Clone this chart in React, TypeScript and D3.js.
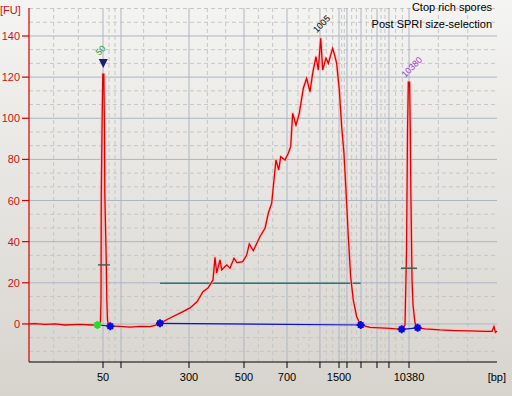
import React, { useEffect, useRef } from 'react';
import * as d3 from 'd3';

const W = 512;
const H = 396;

// electropherogram trace: migration time (s) and fluorescence (FU)
const traceTime = [
  40.0, 40.9, 42.39, 43.89, 45.38, 47.63, 49.42, 50.24, 50.32, 50.69, 50.77, 50.81, 50.92, 51.04, 51.19,
  51.29, 51.34, 51.56, 51.64, 51.74, 51.89, 52.16, 53.61, 55.1, 56.6, 58.09, 58.84, 59.59, 61.09, 63.03,
  64.08, 65.13, 66.02, 66.77, 67.52, 67.82, 68.07, 68.57, 68.82, 69.57, 70.06, 70.66, 71.11, 71.96, 72.56,
  72.95, 73.55, 74.55, 75.3, 75.79, 76.3, 76.64, 76.94, 77.35, 77.65, 78.29, 78.78, 79.14, 79.44, 79.93,
  80.43, 81.03, 81.53, 82.03, 82.43, 82.93, 83.27, 83.63, 83.93, 84.42, 84.77, 85.13, 85.42, 85.77, 86.02,
  86.41, 86.77, 87.11, 87.41, 87.76, 88.11, 88.5, 89.01, 89.61, 91.0, 92.5, 93.99, 95.74, 96.24, 96.47,
  96.62, 96.74, 96.92, 97.03, 97.11, 97.29, 97.44, 97.73, 98.13, 99.23, 101.47, 103.72, 105.96, 108.2, 109.25,
  109.55, 109.77, 110.0,
];
const traceFU = [
  0.0, 0.2, -0.2, 0.0, -0.5, -0.2, -0.5, -0.5, -0.5, 1.0, 11.7, 62.7, 94.3, 121.5, 121.5,
  94.3, 62.7, 29.7, 11.7, 1.9, -0.5, -1.1, -1.2, -1.5, -1.2, -1.3, -0.7, 0.3, 2.9, 6.0,
  7.8, 10.8, 15.7, 17.4, 21.4, 32.4, 24.8, 31.1, 26.3, 28.7, 27.1, 31.9, 29.8, 30.3, 33.5,
  38.9, 35.6, 42.5, 46.5, 53.8, 58.7, 70.0, 79.7, 74.9, 81.3, 79.7, 83.0, 86.2, 102.4, 96.7,
  102.4, 114.6, 119.4, 112.9, 121.9, 129.9, 123.5, 138.9, 123.5, 129.2, 126.7, 130.8, 134.0, 130.0, 126.7,
  113.8, 95.9, 83.0, 65.1, 42.4, 23.0, 11.7, 3.5, -0.5, -1.7, -1.9, -2.2, -2.6, -0.5, 36.0,
  94.3, 117.6, 117.6, 95.3, 65.1, 21.4, 9.2, 0.5, -1.9, -2.4, -2.9, -3.2, -3.4, -3.6, -3.6,
  -1.3, -4.1, -3.4,
];

// ladder ticks on the x axis
const ladderBp = [50, 100, 300, 500, 700, 1000, 1500, 2000, 3000, 5000, 7000, 10380];
const ladderTime = [51.07, 53.76, 63.93, 72.16, 78.59, 83.52, 86.37, 87.56, 89.66, 92.05, 93.84, 96.84];
const ladderLabels = ['50', '', '300', '500', '700', '', '1500', '', '', '', '', '10380'];

const yTicks = [0, 20, 40, 60, 80, 100, 120, 140];

// labelled peaks
const peakTime = [51.11, 83.63, 96.86];
const peakFU = [121.5, 138.9, 117.6];
const peakLabel = ['50', '1005', '10380'];
const peakColor = ['#1f9a1f', '#000000', '#9a3fd0'];

// peak / region start-end points
const greenPoints = [[50.24, -0.5]];
const bluePoints = [[52.16, -1.1], [59.59, 0.3], [89.61, -0.5], [95.74, -2.6], [98.13, -1.9]];
const baselineFrom = [[50.24, -0.5], [59.59, 0.3], [95.74, -2.6]];
const baselineTo = [[52.16, -1.1], [89.61, -0.5], [98.13, -1.9]];
const halfHeightFrom = [50.32, 95.64];
const halfHeightTo = [52.11, 98.03];
const halfHeightFU = [28.7, 27.1];
const regionFrom = 59.59;
const regionTo = 89.61;
const regionFU = 19.8;

const Electropherogram = () => {
  const svgRef = useRef(null);

  useEffect(() => {
    const svg = d3.select(svgRef.current);
    svg.selectAll('*').remove();

    const x = d3.scaleLinear().domain([40, 110]).range([29, 497]);
    const y = d3.scaleLinear().domain([-18.5, 153.6]).range([362, 8]);
    const font = '"Liberation Sans", Arial, sans-serif';

    // background
    const grad = svg.append('defs').append('linearGradient')
      .attr('id', 'bg').attr('x1', 0).attr('y1', 0).attr('x2', 0).attr('y2', 1);
    grad.append('stop').attr('offset', '0%').attr('stop-color', '#f4f4f2');
    grad.append('stop').attr('offset', '100%').attr('stop-color', '#d7d4ce');
    svg.append('rect').attr('width', W).attr('height', H).attr('fill', 'url(#bg)');

    const [x0, x1] = x.range();
    const [yb, yt] = y.range();

    // minor grid (thirds between major lines)
    const xEdges = [x.domain()[0], ...ladderTime, x.domain()[1]];
    const xMinor = [];
    for (let i = 0; i < xEdges.length - 1; i++) {
      const step = (xEdges[i + 1] - xEdges[i]) / 3;
      xMinor.push(xEdges[i] + step, xEdges[i] + 2 * step);
    }
    const yMinor = d3.range(-2, 24).filter(k => k % 3 !== 0).map(k => k * 20 / 3);

    const grid = svg.append('g');
    grid.selectAll('.xm').data(xMinor).enter().append('line')
      .attr('x1', d => x(d)).attr('x2', d => x(d)).attr('y1', yt).attr('y2', yb)
      .attr('stroke', '#c6c6c6').attr('stroke-dasharray', '4,3');
    grid.selectAll('.ym').data(yMinor).enter().append('line')
      .attr('x1', x0).attr('x2', x1).attr('y1', d => y(d)).attr('y2', d => y(d))
      .attr('stroke', '#c6c6c6').attr('stroke-dasharray', '4,3');
    grid.selectAll('.xM').data(ladderTime).enter().append('line')
      .attr('x1', d => x(d)).attr('x2', d => x(d)).attr('y1', yt).attr('y2', yb)
      .attr('stroke', '#adb5c4');
    grid.selectAll('.yM').data(yTicks).enter().append('line')
      .attr('x1', x0).attr('x2', x1).attr('y1', d => y(d)).attr('y2', d => y(d))
      .attr('stroke', '#adb5c4');

    // region bar
    svg.append('line')
      .attr('x1', x(regionFrom)).attr('x2', x(regionTo))
      .attr('y1', y(regionFU)).attr('y2', y(regionFU))
      .attr('stroke', '#2c7a6c').attr('stroke-width', 1.6);

    // baselines under peaks
    svg.selectAll('.base').data(baselineFrom).enter().append('line')
      .attr('x1', d => x(d[0])).attr('y1', d => y(d[1]))
      .attr('x2', (d, i) => x(baselineTo[i][0])).attr('y2', (d, i) => y(baselineTo[i][1]))
      .attr('stroke', '#1010d0').attr('stroke-width', 1.2);

    // trace
    const line = d3.line().x(d => x(d[0])).y(d => y(d[1]));
    const pts = traceTime.map((t, i) => [t, traceFU[i]]);
    svg.append('path').attr('d', line(pts)).attr('fill', 'none')
      .attr('stroke', '#ffb4b4').attr('stroke-width', 3).attr('stroke-opacity', 0.7)
      .attr('stroke-linejoin', 'round');
    svg.append('path').attr('d', line(pts)).attr('fill', 'none')
      .attr('stroke', '#dd0000').attr('stroke-width', 1.3);

    // half-height markers
    svg.selectAll('.hh').data(halfHeightFU).enter().append('line')
      .attr('x1', (d, i) => x(halfHeightFrom[i])).attr('x2', (d, i) => x(halfHeightTo[i]))
      .attr('y1', d => y(d)).attr('y2', d => y(d))
      .attr('stroke', '#3d5a50').attr('stroke-width', 1.4);

    // start / end points
    const dot = (px, py) =>
      `M${px - 3},${py - 3}h6v6h-6z M${px - 1},${py - 4}h2v8h-2z M${px - 4},${py - 1}h8v2h-8z`;
    svg.selectAll('.gp').data(greenPoints).enter().append('path')
      .attr('d', d => dot(x(d[0]), y(d[1]))).attr('fill', '#22dd22');
    svg.selectAll('.bp').data(bluePoints).enter().append('path')
      .attr('d', d => dot(x(d[0]), y(d[1]))).attr('fill', '#0a0ae0');

    // lower marker triangle
    const tx = x(peakTime[0]);
    const ty = y(peakFU[0]) - 15;
    svg.append('path')
      .attr('d', `M${tx - 4.5},${ty}L${tx + 4.5},${ty}L${tx},${ty + 9}Z`)
      .attr('fill', '#1c1c70');

    // peak labels
    const labelDy = [-18, -5, -4];
    svg.selectAll('.pl').data(peakLabel).enter().append('text')
      .attr('transform', (d, i) => `translate(${x(peakTime[i]) - 4},${y(peakFU[i]) + labelDy[i]}) rotate(-45)`)
      .attr('fill', (d, i) => peakColor[i])
      .style('font-family', font).style('font-size', '9px')
      .text(d => d);

    // y axis
    svg.append('line').attr('x1', x0).attr('x2', x0).attr('y1', yt).attr('y2', yb)
      .attr('stroke', '#d00000').attr('stroke-width', 1.2);
    const yAx = svg.append('g');
    yAx.selectAll('line').data(yTicks).enter().append('line')
      .attr('x1', x0 - 7).attr('x2', x0).attr('y1', d => y(d)).attr('y2', d => y(d))
      .attr('stroke', '#d00000').attr('stroke-width', 1.2);
    yAx.selectAll('text').data(yTicks).enter().append('text')
      .attr('x', x0 - 9).attr('y', d => y(d) + 4)
      .attr('text-anchor', 'end').attr('fill', '#d01010')
      .style('font-family', font).style('font-size', '11px')
      .text(d => d);
    svg.append('text').attr('x', 0).attr('y', 14).attr('fill', '#d01010')
      .style('font-family', font).style('font-size', '11px').text('[FU]');

    // x axis
    svg.append('line').attr('x1', x0).attr('x2', x1).attr('y1', yb).attr('y2', yb)
      .attr('stroke', '#000');
    const xAx = svg.append('g');
    xAx.selectAll('line').data(ladderTime).enter().append('line')
      .attr('x1', d => x(d)).attr('x2', d => x(d)).attr('y1', yb).attr('y2', yb + 6)
      .attr('stroke', '#000');
    xAx.selectAll('text').data(ladderBp).enter().append('text')
      .attr('x', (d, i) => x(ladderTime[i])).attr('y', 381)
      .attr('text-anchor', 'middle').attr('fill', '#000')
      .style('font-family', font).style('font-size', '11px')
      .text((d, i) => ladderLabels[i]);
    svg.append('text').attr('x', 506).attr('y', 381).attr('text-anchor', 'end')
      .style('font-family', font).style('font-size', '11px').text('[bp]');

    // sample name
    svg.append('text').attr('x', 492).attr('y', 11).attr('text-anchor', 'end')
      .style('font-family', font).style('font-size', '11px').text('Ctop rich spores');
    svg.append('text').attr('x', 492).attr('y', 28).attr('text-anchor', 'end')
      .style('font-family', font).style('font-size', '11px').text('Post SPRI size-selection');
  }, []);

  return (
    <svg ref={svgRef} width={W} height={H} viewBox={`0 0 ${W} ${H}`}
      style={{ position: 'absolute', left: 0, top: 0, display: 'block' }} />
  );
};

export default function App() {
  return <Electropherogram />;
}
